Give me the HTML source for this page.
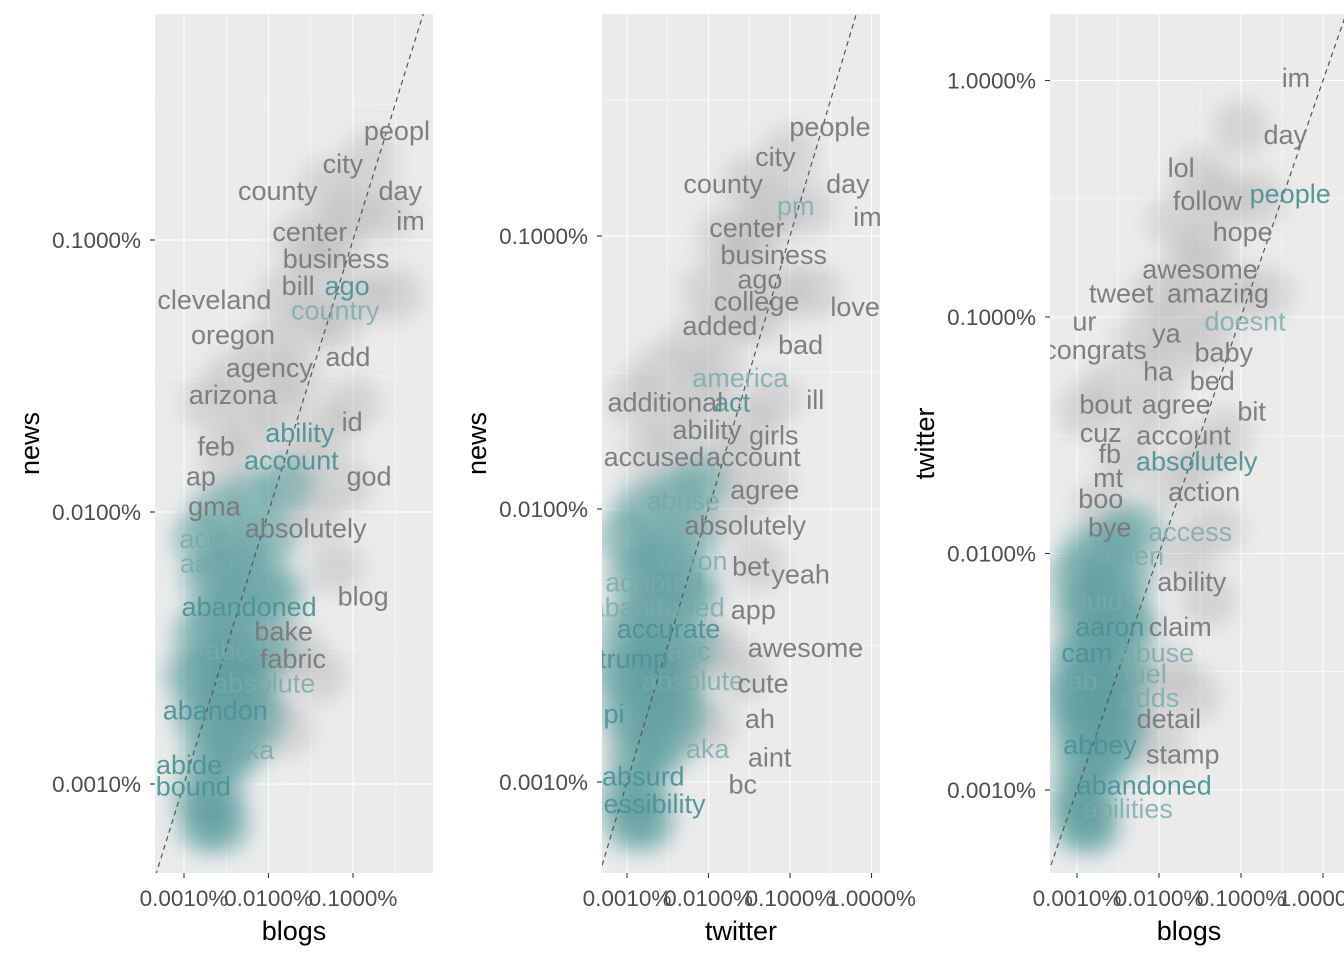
<!DOCTYPE html>
<html><head><meta charset="utf-8"><style>
html,body{margin:0;padding:0;background:#fff;overflow:hidden;width:1344px;height:960px}
svg{display:block;font-family:"Liberation Sans",Arial,sans-serif}
</style></head><body>
<svg id="chart" width="1344" height="960" viewBox="0 0 1344 960" xmlns="http://www.w3.org/2000/svg">
<defs>
<filter id="soft" x="-50%" y="-50%" width="200%" height="200%"><feGaussianBlur stdDeviation="10"/></filter>
</defs>
</svg>
<script>
// ---------- data (log10 of percent frequency) ----------
const tickValues = [-3, -2, -1, 0];
const tickLabels = ["0.0010%", "0.0100%", "0.1000%", "1.0000%"];

// Panel 1: blogs (x) vs news (y)
const p1Words = ["peopl","city","county","day","im","center","business","bill","ago","cleveland","country","oregon","add","agency","arizona","ability","id","feb","account","god","ap","gma","absolutely","acid","aaron","blog","abandoned","bake","abc","fabric","absolute","abandon","aka","abide","bound"];
const p1X = [-0.48,-1.12,-1.89,-0.44,-0.32,-1.51,-1.20,-1.65,-1.07,-2.64,-1.21,-2.42,-1.06,-1.99,-2.42,-1.63,-1.01,-2.62,-1.73,-0.81,-2.80,-2.64,-1.56,-2.76,-2.64,-0.88,-2.23,-1.82,-2.49,-1.71,-2.05,-2.63,-2.19,-2.94,-2.89];
const p1Y = [-0.60,-0.72,-0.82,-0.82,-0.93,-0.97,-1.07,-1.17,-1.17,-1.22,-1.26,-1.35,-1.43,-1.47,-1.57,-1.71,-1.67,-1.76,-1.81,-1.87,-1.87,-1.98,-2.06,-2.10,-2.19,-2.31,-2.35,-2.44,-2.51,-2.54,-2.63,-2.73,-2.875,-2.93,-3.01];
const p1Kind = [0,0,0,0,0,0,0,0,1,0,2,0,0,0,0,1,0,0,1,0,0,0,0,2,2,0,1,0,2,0,2,1,2,1,1];

// Panel 2: twitter (x) vs news (y)
const p2Words = ["people","city","county","day","pm","im","center","business","ago","college","love","added","bad","america","additional","act","ill","ability","girls","accused","account","abuse","agree","absolutely","aaron","bet","yeah","adopted","abandoned","app","accurate","awesome","abc","trump","absolute","cute","ah","pi","aka","aint","absurd","bc","accessibility"];
const p2X = [-0.51,-1.18,-1.82,-0.29,-0.93,-0.05,-1.53,-1.20,-1.37,-1.41,-0.20,-1.86,-0.87,-1.61,-2.53,-1.71,-0.69,-2.02,-1.20,-2.67,-1.45,-2.31,-1.31,-1.55,-2.19,-1.48,-0.87,-2.67,-2.63,-1.45,-2.49,-0.81,-2.24,-2.92,-2.19,-1.33,-1.37,-3.16,-2.01,-1.25,-2.80,-1.58,-2.92];
const p2Y = [-0.60,-0.71,-0.81,-0.81,-0.89,-0.93,-0.97,-1.07,-1.16,-1.24,-1.26,-1.33,-1.40,-1.52,-1.61,-1.61,-1.60,-1.71,-1.73,-1.81,-1.81,-1.97,-1.93,-2.06,-2.19,-2.21,-2.24,-2.27,-2.36,-2.37,-2.44,-2.51,-2.52,-2.55,-2.63,-2.64,-2.77,-2.75,-2.88,-2.91,-2.98,-3.01,-3.08];
const p2Kind = [0,0,0,0,2,0,0,0,0,0,0,0,0,2,0,1,0,0,0,0,0,2,0,0,2,0,0,2,2,0,1,0,2,1,2,0,0,1,2,0,1,0,1];

// Panel 3: blogs (x) vs twitter (y)
const p3Words = ["im","day","lol","follow","people","hope","awesome","tweet","amazing","ur","ya","doesnt","congrats","baby","ha","bed","bout","agree","bit","cuz","account","fb","absolutely","mt","boo","action","bye","access","amen","ability","fluids","aaron","claim","cam","abuse","ab","fuel","adds","detail","abbey","stamp","abandoned","abilities"];
const p3X = [-0.33,-0.46,-1.73,-1.41,-0.40,-0.98,-1.50,-2.46,-1.28,-2.91,-1.91,-0.95,-2.78,-1.21,-2.01,-1.35,-2.65,-1.79,-0.87,-2.71,-1.70,-2.60,-1.54,-2.62,-2.71,-1.45,-2.60,-1.62,-2.35,-1.60,-2.66,-2.60,-1.74,-2.88,-2.02,-2.93,-2.17,-2.11,-1.88,-2.72,-1.71,-2.18,-2.38];
const p3Y = [0.01,-0.23,-0.37,-0.51,-0.48,-0.64,-0.80,-0.90,-0.90,-1.02,-1.07,-1.02,-1.14,-1.15,-1.23,-1.27,-1.37,-1.37,-1.40,-1.49,-1.50,-1.58,-1.61,-1.68,-1.77,-1.74,-1.89,-1.91,-2.01,-2.12,-2.20,-2.31,-2.31,-2.42,-2.42,-2.54,-2.51,-2.61,-2.70,-2.81,-2.85,-2.98,-3.08];
const p3Kind = [0,0,0,0,1,0,0,0,0,0,0,2,0,0,0,0,0,0,0,0,0,0,1,0,0,0,0,2,2,0,2,1,0,1,2,2,2,2,0,1,0,1,2];

// background point clouds (estimated density centres)
const p1TealX = [-2.8,-2.6,-2.7,-2.5,-2.3,-2.8,-2.6,-2.4,-2.2,-2.7,-2.5,-2.3,-2.0,-2.8,-2.6,-2.4,-2.1,-2.7,-2.5,-2.3,-2.8,-2.0,-2.6,-2.2,-1.8,-2.4,-2.9,-2.1,-1.9,-2.75,-2.55];
const p1TealY = [-3.05,-3.05,-2.9,-2.9,-2.85,-2.75,-2.75,-2.7,-2.65,-2.6,-2.55,-2.5,-2.5,-2.45,-2.4,-2.35,-2.3,-2.25,-2.2,-2.15,-2.1,-2.1,-2.0,-1.95,-1.9,-2.6,-2.6,-2.75,-2.3,-3.15,-3.15];
const p1GrayX = [-2.5,-2.2,-1.9,-2.4,-2.0,-1.7,-1.5,-1.8,-1.4,-1.2,-1.0,-1.6,-1.2,-0.9,-0.8,-1.3,-1.6,-1.3,-1.0,-1.5,-1.2,-1.7,-1.4,-2.7,-0.6,-0.5,-1.1,-2.1,-1.8];
const p1GrayY = [-1.8,-1.7,-1.6,-1.5,-1.4,-1.5,-1.3,-1.2,-1.1,-1.0,-0.9,-1.0,-1.3,-1.2,-0.7,-0.8,-1.8,-1.7,-1.6,-2.0,-2.2,-2.5,-2.6,-1.6,-0.9,-1.2,-1.9,-2.6,-2.8];

const p2TealX = [-3.0,-2.8,-2.9,-2.7,-2.5,-3.0,-2.8,-2.6,-2.4,-2.9,-2.7,-2.5,-2.2,-3.0,-2.8,-2.6,-2.3,-2.9,-2.7,-2.5,-3.0,-2.2,-2.8,-2.4,-2.1,-2.6,-3.1,-2.3,-2.2,-2.95,-2.75];
const p2TealY = [-3.05,-3.05,-2.9,-2.9,-2.85,-2.75,-2.75,-2.7,-2.65,-2.6,-2.55,-2.5,-2.5,-2.45,-2.4,-2.35,-2.3,-2.25,-2.2,-2.15,-2.1,-2.1,-2.0,-1.95,-1.9,-2.6,-2.6,-2.75,-2.3,-3.15,-3.15];
const p2GrayX = [-2.7,-2.4,-2.1,-2.6,-2.2,-1.9,-1.7,-2.0,-1.6,-1.4,-1.2,-1.8,-1.4,-1.1,-1.0,-1.5,-1.8,-1.5,-1.2,-1.7,-1.4,-1.9,-1.6,-2.9,-0.8,-0.7,-1.3,-2.3,-2.0];
const p2GrayY = [-1.8,-1.7,-1.6,-1.5,-1.4,-1.5,-1.3,-1.2,-1.1,-1.0,-0.9,-1.0,-1.3,-1.2,-0.7,-0.8,-1.8,-1.7,-1.6,-2.0,-2.2,-2.5,-2.6,-1.6,-0.9,-1.2,-1.9,-2.6,-2.8];

const p3TealX = [-3.0,-2.85,-2.95,-2.75,-2.6,-3.0,-2.85,-2.7,-2.5,-2.95,-2.8,-2.6,-2.4,-3.0,-2.85,-2.7,-2.45,-2.95,-2.8,-2.6,-3.0,-2.4,-2.85,-2.55,-2.3,-2.7,-3.1,-2.45,-2.35,-2.95,-2.8];
const p3TealY = [-3.05,-3.05,-2.9,-2.9,-2.85,-2.75,-2.75,-2.7,-2.65,-2.6,-2.55,-2.5,-2.5,-2.45,-2.4,-2.35,-2.3,-2.25,-2.2,-2.15,-2.1,-2.1,-2.0,-1.95,-1.9,-2.6,-2.6,-2.75,-2.3,-3.15,-3.15];
const p3GrayX = [-2.7,-2.4,-2.1,-2.6,-2.2,-1.9,-1.7,-2.0,-1.6,-1.4,-1.2,-1.8,-1.4,-1.1,-1.0,-1.5,-1.8,-1.5,-1.2,-1.7,-1.4,-1.9,-1.6,-2.9,-0.8,-0.7,-1.3,-2.3,-2.0];
const p3GrayY = [-1.8,-1.6,-1.4,-1.3,-1.1,-1.2,-1.0,-0.9,-0.8,-0.7,-0.5,-0.6,-1.1,-0.9,-0.2,-0.4,-1.7,-1.6,-1.5,-2.0,-2.2,-2.5,-2.6,-1.4,-0.5,-0.9,-1.9,-2.6,-2.8];

// ---------- drawing ----------
const NS = "http://www.w3.org/2000/svg";
const svg = document.getElementById("chart");
function mk(tag, attrs, parent) {
  const e = document.createElementNS(NS, tag);
  for (const k in attrs) e.setAttribute(k, attrs[k]);
  (parent || svg).appendChild(e);
  return e;
}
const panels = [
  {left:155, right:433, top:14, bottom:873, x0:184, xd:84.5, y0:784, yd:272, xlab:"blogs", ylab:"news", ylabX:30,
   words:p1Words, wx:p1X, wy:p1Y, kind:p1Kind, tx:p1TealX, ty:p1TealY, gx:p1GrayX, gy:p1GrayY, xticks:3},
  {left:602, right:880, top:14, bottom:873, x0:627, xd:81.5, y0:782, yd:273, xlab:"twitter", ylab:"news", ylabX:477,
   words:p2Words, wx:p2X, wy:p2Y, kind:p2Kind, tx:p2TealX, ty:p2TealY, gx:p2GrayX, gy:p2GrayY, xticks:4},
  {left:1050, right:1344, top:14, bottom:873, x0:1077, xd:82, y0:790, yd:236.5, xlab:"blogs", ylab:"twitter", ylabX:925,
   words:p3Words, wx:p3X, wy:p3Y, kind:p3Kind, tx:p3TealX, ty:p3TealY, gx:p3GrayX, gy:p3GrayY, xticks:4}
];
const wordColors = ["#7a7a7a", "#4f9396", "#7aa9ab"];
const wordOpac = [0.95, 0.95, 0.8];

panels.forEach((p, pi) => {
  const X = v => p.x0 + (v + 3) * p.xd;
  const Y = v => p.y0 - (v + 3) * p.yd;
  const g = mk("g", {});
  
  
  const clip = mk("clipPath", {id: "clip" + pi}, svg.querySelector("defs"));
  mk("rect", {x:p.left, y:p.top, width:p.right-p.left, height:p.bottom-p.top}, clip);
  const bg = mk("rect", {x:p.left, y:p.top, width:p.right-p.left, height:p.bottom-p.top, fill:"#EBEBEB"}, g);
  
  
  const inner = mk("g", {"clip-path": "url(#clip" + pi + ")"}, g);
  for (let v = -4; v <= 1; v += 0.5) {
    const major = Number.isInteger(v);
    const w = major ? 1.1 : 0.55;
    mk("line", {x1:X(v), x2:X(v), y1:p.top, y2:p.bottom, stroke:"#fff", "stroke-width":w}, inner);
    mk("line", {y1:Y(v), y2:Y(v), x1:p.left, x2:p.right, stroke:"#fff", "stroke-width":w}, inner);
  }
  const cloud = mk("g", {filter:"url(#soft)"}, inner);
  
  
  p.gx.forEach((v, i) => {
    const c = mk("circle", {cx:X(v), cy:Y(p.gy[i]), r:28, fill:"#a8a8a8", opacity:0.35}, cloud);
    
    
  });
  p.tx.forEach((v, i) => {
    const c = mk("circle", {cx:X(v), cy:Y(p.ty[i]), r:28, fill:"#5f9ea0", opacity:0.6}, cloud);
    
    
  });
  const dl = mk("line", {x1:X(-4), y1:Y(-4), x2:X(1), y2:Y(1), stroke:"#555", "stroke-width":1.2, "stroke-dasharray":"5 4"}, inner);
  
  
  p.words.forEach((w, i) => {
    const t = mk("text", {x:X(p.wx[i]), y:Y(p.wy[i]) + 9, "text-anchor":"middle", "font-size":27, fill:wordColors[p.kind[i]], opacity:wordOpac[p.kind[i]]}, inner);
    t.textContent = w;
    
    
  });
  tickValues.forEach((v, i) => {
    const y = Y(v);
    if (y >= p.top && y <= p.bottom) {
      mk("line", {x1:p.left-5, x2:p.left, y1:y, y2:y, stroke:"#333", "stroke-width":1.1}, g);
      const t = mk("text", {x:p.left-14, y:y+8, "text-anchor":"end", "font-size":22.5, fill:"#4D4D4D"}, g);
      t.textContent = tickLabels[i];
      
      
    }
    if (i < p.xticks) {
      const x = X(v);
      mk("line", {x1:x, x2:x, y1:p.bottom, y2:p.bottom+5, stroke:"#333", "stroke-width":1.1}, g);
      const t = mk("text", {x:x, y:p.bottom+33, "text-anchor":"middle", "font-size":22.5, fill:"#4D4D4D"}, g);
      t.textContent = tickLabels[i];
      
      
    }
  });
  const xt = mk("text", {x:(p.left+Math.min(p.right,1328))/2, y:940, "text-anchor":"middle", "font-size":27, fill:"#000"}, g);
  xt.textContent = p.xlab;
  
  
  const yt = mk("text", {x:0, y:0, "text-anchor":"middle", "font-size":27, fill:"#000", transform:"translate(" + (p.ylabX+9) + "," + ((p.top+p.bottom)/2) + ") rotate(-90)"}, g);
  yt.textContent = p.ylab;
  
  
});
</script>
</body></html>
